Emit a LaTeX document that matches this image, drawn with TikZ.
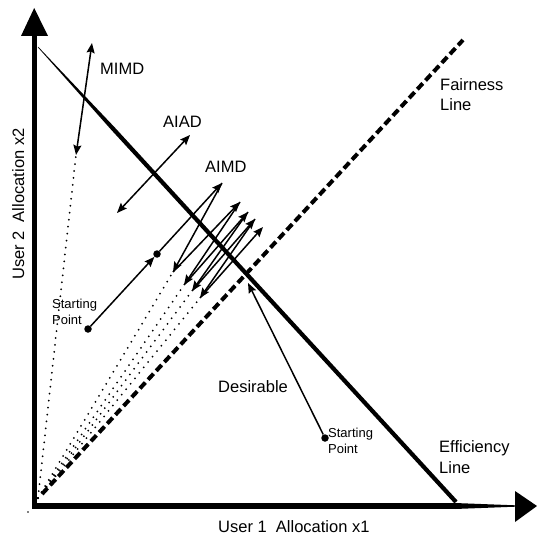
\documentclass[tikz,border=0pt]{standalone}
\usepackage{fontspec}
\setmainfont{Liberation Sans}
\usetikzlibrary{arrows.meta,calc}
\begin{document}
\begin{tikzpicture}[x=1pt,y=-1pt,
  lbl/.style={anchor=base west,inner sep=0pt,font=\fontsize{16.5}{20}\selectfont},
  small/.style={anchor=base west,inner sep=0pt,font=\fontsize{13}{15}\selectfont},
  arr/.style={line width=1.5pt,-{Stealth[length=10pt,width=8pt,inset=1.5pt]}},
  darr/.style={line width=1.5pt,{Stealth[length=10pt,width=8pt,inset=1.5pt]}-{Stealth[length=10pt,width=8pt,inset=1.5pt]}},
  dots/.style={line width=2pt,line cap=round,dash pattern=on 0pt off 7pt},
  fair/.style={line width=4pt,dash pattern=on 8pt off 4pt},
  sdot/.style={circle,fill=black,inner sep=0pt,minimum size=7.5pt}
]
\useasboundingbox (0,0) rectangle (537,537);

% axes
\fill (31.7,36) rectangle (36.7,509);
\fill (21,36) -- (34.2,8) -- (48,36) -- cycle;
\fill (31.7,503) rectangle (455,509);
\fill (455,503) -- (515,505.3) -- (515,506.7) -- (455,509) -- cycle;
\fill (515,491) -- (537,506) -- (515,522) -- cycle;

% efficiency line (tapered)
\coordinate (E1) at (38,47);
\coordinate (E2) at (456,502);
\coordinate (Em) at ($(E1)!0.18!(E2)$);
\fill ($(E1)!0.3pt!90:(E2)$) -- ($(Em)!2.1pt!90:(E2)$) -- ($(E2)!2.1pt!-90:(E1)$)
   -- ($(E2)!2.1pt!90:(E1)$) -- ($(Em)!2.1pt!-90:(E2)$) -- ($(E1)!0.3pt!-90:(E2)$) -- cycle;

% fairness line
\coordinate (F1) at (42,494);
\coordinate (F2) at (463,40);
\draw[fair] (F1) -- (F2);

% fan origin and points
\coordinate (O) at (38,498);
\coordinate (m1) at (76,155);
\coordinate (m2) at (92,43);
\coordinate (a1) at (117,213);
\coordinate (a2) at (190,135);
\coordinate (t1) at (222,183);
\coordinate (b1) at (173,272);
\coordinate (t2) at (240,202);
\coordinate (b2) at (184,285);
\coordinate (t3) at (248,212);
\coordinate (b3) at (192,291);
\coordinate (t4) at (255,219);
\coordinate (b4) at (200,298);
\coordinate (t5) at (263,227);
\coordinate (d) at (248,283);
\node[sdot] (s1) at (88,329) {};
\node[sdot] (p1) at (157,254) {};
\node[sdot] (s2) at (325,438) {};
\node[circle,fill=black,inner sep=0pt,minimum size=1.8pt] (stray) at (28,512) {};

% dotted rays
\draw[dots] (O) -- (m1);
\draw[dots] (O) -- (b1);
\draw[dots] (O) -- (b2);
\draw[dots] (O) -- (b3);
\draw[dots] (O) -- (b4);

% MIMD / AIAD
\draw[darr] (m1) -- (m2);
\draw[darr] (a1) -- (a2);

% AIMD trajectory
\draw[arr] (s1) -- (p1);
\draw[arr] (p1) -- (t1);
\draw[arr] (t1) -- (b1);
\draw[arr] (b1) -- (t2);
\draw[arr] (t2) -- (b2);
\draw[arr] (b2) -- (t3);
\draw[arr] (t3) -- (b3);
\draw[arr] (b3) -- (t4);
\draw[arr] (t4) -- (b4);
\draw[arr] (b4) -- (t5);

% desirable
\draw[arr] (s2) -- (d);

% labels
\node[lbl] (lmimd) at (100,75) {MIMD};
\node[lbl] (laiad) at (163,128) {AIAD};
\node[lbl] (laimd) at (205,173) {AIMD};
\node[lbl] (lfair1) at (440,91) {Fairness};
\node[lbl] (lfair2) at (440,111) {Line};
\node[lbl] (leff1) at (439,452) {Efficiency};
\node[lbl] (leff2) at (439,473) {Line};
\node[lbl] (ldes) at (218,392) {Desirable};
\node[lbl] (lx) at (218,532) {User 1\ \ Allocation x1};
\node[lbl,rotate=90] (ly) at (24,280) {User 2\ \ Allocation x2};
\node[small] (ls1a) at (52,308) {Starting};
\node[small] (ls1b) at (52,324) {Point};
\node[small] (ls2a) at (328,437) {Starting};
\node[small] (ls2b) at (328,453) {Point};
\end{tikzpicture}
\end{document}
